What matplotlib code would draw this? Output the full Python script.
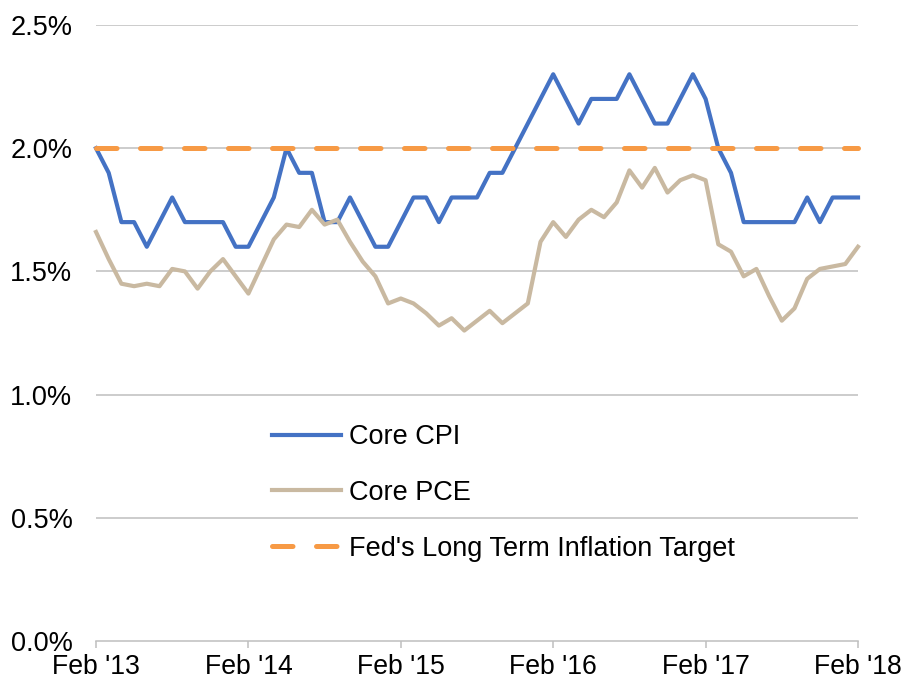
import matplotlib
matplotlib.use("Agg")
import matplotlib.pyplot as plt

plt.rcParams['font.family'] = ['Liberation Sans', 'DejaVu Sans']

x_labels = ["Feb '13", "Feb '14", "Feb '15", "Feb '16", "Feb '17", "Feb '18"]
y_ticks = [0.0, 0.5, 1.0, 1.5, 2.0, 2.5]

core_cpi = [2.0, 1.9, 1.7, 1.7, 1.6, 1.7, 1.8, 1.7, 1.7, 1.7, 1.7, 1.6,
            1.6, 1.7, 1.8, 2.0, 1.9, 1.9, 1.7, 1.7, 1.8, 1.7, 1.6, 1.6,
            1.7, 1.8, 1.8, 1.7, 1.8, 1.8, 1.8, 1.9, 1.9, 2.0, 2.1, 2.2,
            2.3, 2.2, 2.1, 2.2, 2.2, 2.2, 2.3, 2.2, 2.1, 2.1, 2.2, 2.3,
            2.2, 2.0, 1.9, 1.7, 1.7, 1.7, 1.7, 1.7, 1.8, 1.7, 1.8, 1.8,
            1.8]

core_pce = [1.66, 1.55, 1.45, 1.44, 1.45, 1.44, 1.51, 1.50, 1.43, 1.50, 1.55, 1.48,
            1.41, 1.52, 1.63, 1.69, 1.68, 1.75, 1.69, 1.71, 1.62, 1.54, 1.48, 1.37,
            1.39, 1.37, 1.33, 1.28, 1.31, 1.26, 1.30, 1.34, 1.29, 1.33, 1.37, 1.62,
            1.70, 1.64, 1.71, 1.75, 1.72, 1.78, 1.91, 1.84, 1.92, 1.82, 1.87, 1.89,
            1.87, 1.61, 1.58, 1.48, 1.51, 1.40, 1.30, 1.35, 1.47, 1.51, 1.52, 1.53,
            1.60]

fed_target = [2.0] * len(core_cpi)

months = list(range(len(core_cpi)))

fig = plt.figure(figsize=(9.05, 6.88), dpi=100)
ax = fig.add_axes([96/905, 47/688, 762/905, 616/688])

grid_c = '#BFBFBF'
for v in y_ticks[1:]:
    ax.axhline(v, color=grid_c, lw=1.1, zorder=1)

ax.plot(months, core_cpi, color='#4472C4', lw=3.0, label='Core CPI', zorder=3,
        clip_on=False)
ax.plot(months, core_pce, color='#C9B9A1', lw=3.0, label='Core PCE', zorder=3,
        clip_on=False)
ax.plot(months, fed_target, color='#F79A45', lw=3.6, dashes=(4.1, 4.7),
        dash_capstyle='round', label="Fed's Long Term Inflation Target", zorder=4,
        clip_on=False)

ax.set_xlim(0, 60)
ax.set_ylim(0, 2.5)
ax.set_xticks(range(0, 61, 12))
ax.set_xticklabels(x_labels)
ax.set_yticks(y_ticks)
ax.set_yticklabels([f"{v:.1f}%" for v in y_ticks])

for s in ['left', 'right', 'top']:
    ax.spines[s].set_visible(False)
ax.spines['bottom'].set_color(grid_c)
ax.spines['bottom'].set_linewidth(1.1)
ax.tick_params(axis='x', direction='out', length=5, color=grid_c, width=1.1,
               labelsize=19.2, pad=4.5)
ax.tick_params(axis='y', length=0, labelsize=19.5, pad=17)

leg = ax.legend(loc='upper left', bbox_to_anchor=(272/905, 1 - 424/688),
                bbox_transform=fig.transFigure, frameon=False, fontsize=19.5,
                handlelength=2.55, handletextpad=0.28, labelspacing=1.1,
                borderpad=0, borderaxespad=0)

fig.savefig('out.png', dpi=100)
